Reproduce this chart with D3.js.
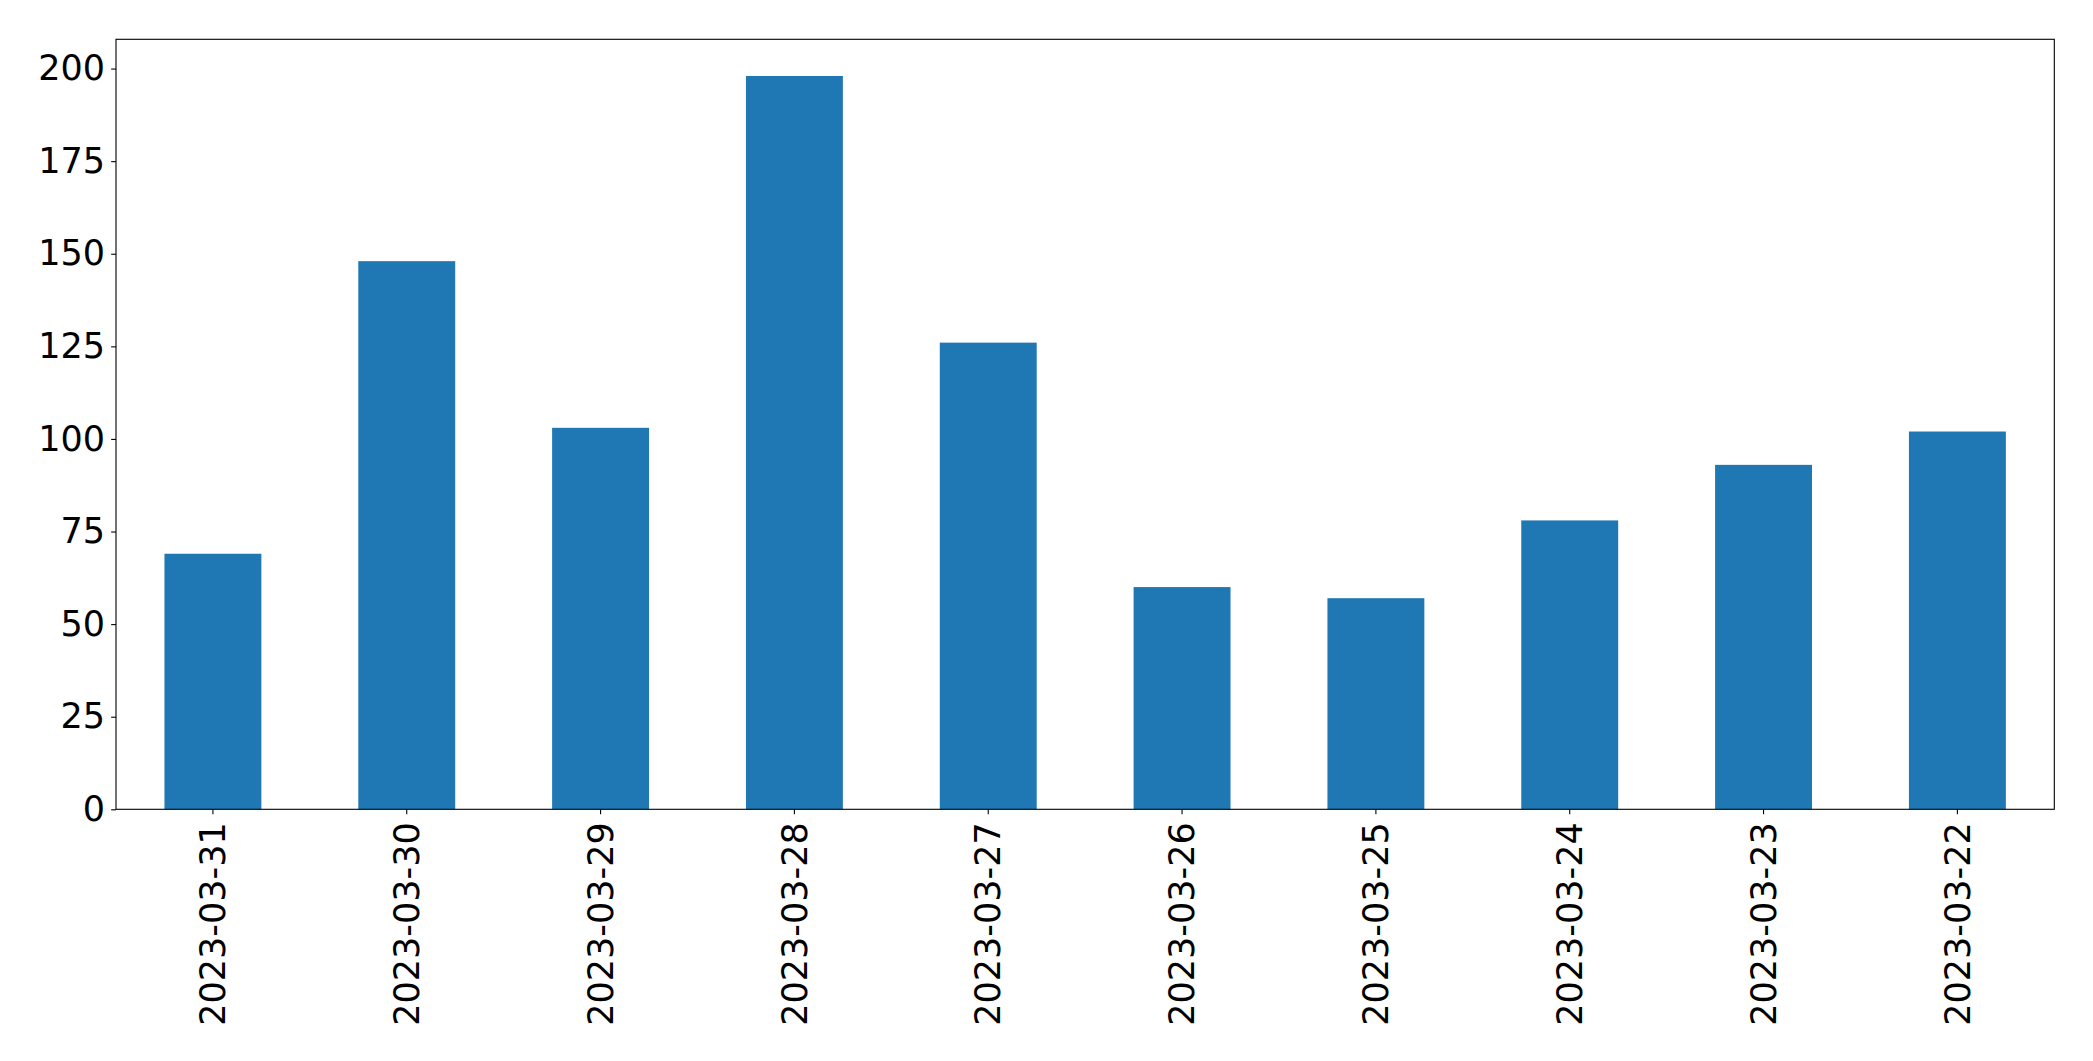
<!DOCTYPE html>
<html>
<head>
<meta charset="utf-8">
<script src="https://cdn.jsdelivr.net/npm/d3@7"></script>
<style>
  html, body { margin: 0; padding: 0; background: #fff; }
  svg { display: block; }
  text { font-family: "DejaVu Sans", sans-serif; fill: #000; }
</style>
</head>
<body>
<svg id="chart" width="2093" height="1061"></svg>
<script>
const categories = ["2023-03-31","2023-03-30","2023-03-29","2023-03-28","2023-03-27","2023-03-26","2023-03-25","2023-03-24","2023-03-23","2023-03-22"];
const values = [69, 148, 103, 198, 126, 60, 57, 78, 93, 102];
const yTicks = [0, 25, 50, 75, 100, 125, 150, 175, 200];

const W = 2093, H = 1061;
const m = { left: 116, right: W - 2054.3, top: 39.3, bottom: H - 809.3 };
const fontSize = 35;
const tickLen = 4.86;

const svg = d3.select("#chart");
const g = svg.append("g");

const x = d3.scaleBand().domain(categories).range([m.left, W - m.right]).paddingInner(0.5).paddingOuter(0.25);
const ymax = d3.max(values) * 1.05;
const y = d3.scaleLinear().domain([0, ymax]).range([H - m.bottom, m.top]);

// bars
g.selectAll("rect.bar").data(values).join("rect")
  .attr("class", "bar")
  .attr("x", (d, i) => x(categories[i]))
  .attr("width", x.bandwidth())
  .attr("y", d => y(d))
  .attr("height", d => y(0) - y(d))
  .attr("fill", "#1f77b4");

// y axis
const yAxis = d3.axisLeft(y).tickValues(yTicks).tickSize(tickLen).tickPadding(6);
const ya = g.append("g").attr("transform", `translate(${m.left},0)`).call(yAxis);
ya.select(".domain").remove();
ya.selectAll("line").attr("stroke", "#000").attr("stroke-width", 1.1);
ya.selectAll("text").attr("font-size", fontSize).attr("font-family", "DejaVu Sans").attr("fill", "#000");

// x axis
const xAxis = d3.axisBottom(x).tickSize(tickLen).tickSizeOuter(0);
const xa = g.append("g").attr("transform", `translate(0,${H - m.bottom})`).call(xAxis);
xa.select(".domain").remove();
xa.selectAll("line").attr("stroke", "#000").attr("stroke-width", 1.1);
xa.selectAll("text")
  .attr("font-size", fontSize).attr("font-family", "DejaVu Sans").attr("fill", "#000")
  .attr("text-anchor", "end")
  .attr("transform", "rotate(-90)")
  .attr("x", -13)
  .attr("y", 0)
  .attr("dy", "0.35em");

// frame
g.append("rect")
  .attr("x", m.left).attr("y", m.top)
  .attr("width", W - m.right - m.left).attr("height", H - m.bottom - m.top)
  .attr("fill", "none").attr("stroke", "#000").attr("stroke-width", 1.1);
</script>
</body>
</html>
